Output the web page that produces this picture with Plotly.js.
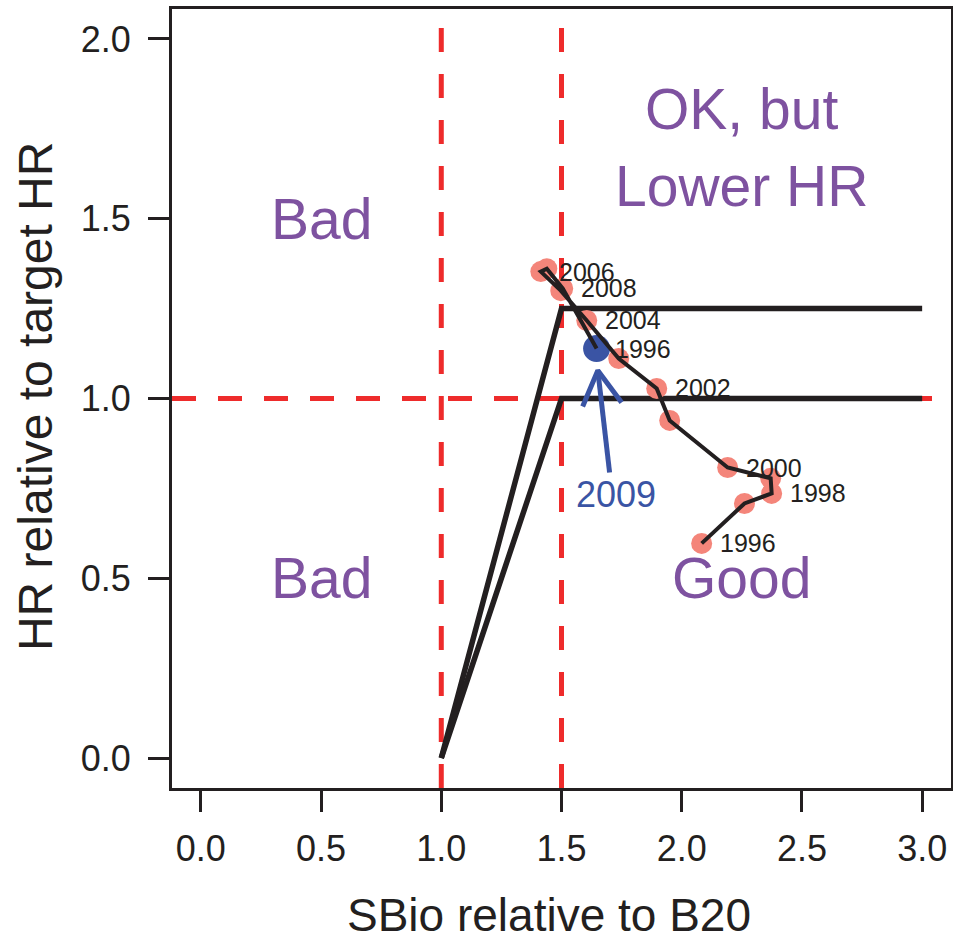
<!DOCTYPE html>
<html>
<head>
<meta charset="utf-8">
<script src="https://cdn.plot.ly/plotly-3.0.1.min.js"></script>
<style>html,body{margin:0;padding:0;background:#fff;}#chart{width:953px;height:941px;}</style>
</head>
<body>
<div id="chart"></div>
<script>
// ---- data ----
var years = [1996,1997,1998,1999,2000,2001,2002,2003,2004,2005,2006,2007,2008];
var sbio  = [2.083,2.261,2.374,2.370,2.191,1.950,1.896,1.738,1.605,1.497,1.414,1.439,1.505];
var hrRel = [0.597,0.708,0.736,0.778,0.808,0.939,1.028,1.111,1.217,1.300,1.353,1.361,1.306];
var sbio2009 = 1.646, hr2009 = 1.139;
var labelIdx = [0,2,4,6,8,10,12];
var label2009 = '1996';
var arrowX = [1.700,1.651], arrowY = [0.794,1.078];
var arrowWingX = [1.588,1.651,1.750], arrowWingY = [0.978,1.078,0.989];
var arrowText = '2009', arrowTextX = 1.727, arrowTextY = 0.733;
var hcrX = [1.0,1.5,3.0];
var hcrUpper = [0,1.25,1.25];
var hcrLower = [0,1.0,1.0];
var refX = [1.0,1.5];
var refY = [1.0];
var regionText = ['Bad','Bad','OK, but','Lower HR','Good'];
var regionX = [0.5,0.5,2.25,2.25,2.25];
var regionY = [1.5,0.5,1.806,1.592,0.5];
var xTicks = [0,0.5,1,1.5,2,2.5,3];
var yTicks = [0,0.5,1,1.5,2];
var xTitle = 'SBio relative to B20';
var yTitle = 'HR relative to target HR';

var FONT = 'Liberation Sans, Arial, Helvetica, sans-serif';
var INK = '#231F20';
var RED = '#EE2B2B';
var PURPLE = '#7E52A0';
var BLUE = '#3A54A4';
var SALMON = '#F4857A';

var traces = [];
traces.push({x: hcrX, y: hcrUpper, mode:'lines', line:{color:INK, width:5.5}, hoverinfo:'skip'});
traces.push({x: hcrX, y: hcrLower, mode:'lines', line:{color:INK, width:5.5}, hoverinfo:'skip'});
traces.push({x: sbio, y: hrRel, mode:'markers', marker:{color:SALMON, size:21, line:{width:0}}, hoverinfo:'skip'});
traces.push({x: [sbio2009], y: [hr2009], mode:'markers', marker:{color:BLUE, size:27, line:{width:0}}, hoverinfo:'skip'});
traces.push({x: sbio.concat([sbio2009]), y: hrRel.concat([hr2009]), mode:'lines', line:{color:INK, width:4}, hoverinfo:'skip'});
traces.push({x: arrowX, y: arrowY, mode:'lines', line:{color:BLUE, width:5}, hoverinfo:'skip'});
traces.push({x: arrowWingX, y: arrowWingY, mode:'lines', line:{color:BLUE, width:5}, hoverinfo:'skip'});

var shapes = [];
refX.forEach(function(v){
  shapes.push({type:'line', xref:'x', yref:'paper', x0:v, x1:v, y0:0, y1:1, line:{color:RED, width:5, dash:'24px,22px'}, layer:'below'});
});
refY.forEach(function(v){
  shapes.push({type:'line', xref:'paper', yref:'y', x0:0, x1:1, y0:v, y1:v, line:{color:RED, width:5, dash:'24px,22px'}, layer:'below'});
});

var annotations = [];
labelIdx.forEach(function(i){
  annotations.push({x:sbio[i], y:hrRel[i], text:String(years[i]), showarrow:false, xanchor:'left', yanchor:'middle', xshift:16, font:{family:FONT, size:25, color:INK}});
});
annotations.push({x:sbio2009, y:hr2009, text:label2009, showarrow:false, xanchor:'left', yanchor:'middle', xshift:16, font:{family:FONT, size:25, color:INK}});
annotations.push({x:arrowTextX, y:arrowTextY, text:arrowText, showarrow:false, xanchor:'center', yanchor:'middle', font:{family:FONT, size:36, color:BLUE}});
regionText.forEach(function(t,i){
  annotations.push({x:regionX[i], y:regionY[i], text:t, showarrow:false, xanchor:'center', yanchor:'middle', font:{family:FONT, size:57, color:PURPLE}});
});
// axis titles (placed like R's mtext)
annotations.push({xref:'paper', yref:'paper', x:0.484, y:-0.163, text:xTitle, showarrow:false, xanchor:'center', yanchor:'middle', font:{family:FONT, size:46, color:INK}});
annotations.push({xref:'paper', yref:'paper', x:-0.176, y:0.503, text:yTitle, textangle:-90, showarrow:false, xanchor:'center', yanchor:'middle', font:{family:FONT, size:48, color:INK}});

var layout = {
  width:953, height:941,
  margin:{l:172, r:2, t:9, b:153, pad:0},
  paper_bgcolor:'#fff', plot_bgcolor:'#fff',
  showlegend:false,
  font:{family:FONT, color:INK},
  xaxis:{
    range:[-0.12,3.12], showgrid:false, zeroline:false,
    showline:true, mirror:true, linecolor:INK, linewidth:3,
    ticks:'outside', ticklen:21, tickwidth:3, tickcolor:INK,
    tickvals:xTicks, ticktext:xTicks.map(function(v){return v.toFixed(1);}),
    tickfont:{family:FONT, size:36, color:INK}, ticklabelstandoff:6
  },
  yaxis:{
    range:[-0.0833,2.0833], showgrid:false, zeroline:false,
    showline:true, mirror:true, linecolor:INK, linewidth:3,
    ticks:'outside', ticklen:21, tickwidth:3, tickcolor:INK,
    tickvals:yTicks, ticktext:yTicks.map(function(v){return v.toFixed(1);}),
    tickfont:{family:FONT, size:36, color:INK}, ticklabelstandoff:10
  },
  shapes:shapes,
  annotations:annotations
};

Plotly.newPlot('chart', traces, layout, {staticPlot:true, displayModeBar:false});
</script>
</body>
</html>
